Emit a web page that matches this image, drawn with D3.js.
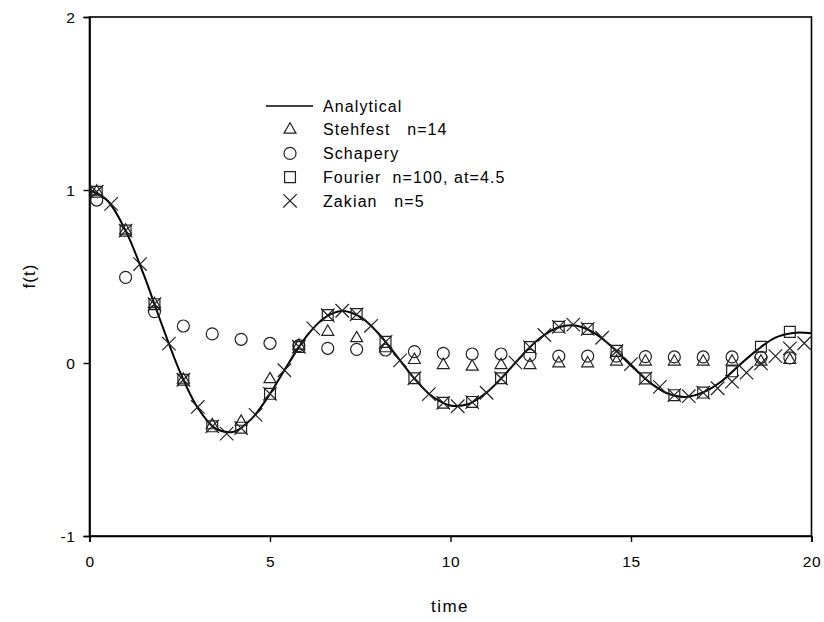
<!DOCTYPE html>
<html>
<head>
<meta charset="utf-8">
<script src="https://cdn.jsdelivr.net/npm/d3@7"></script>
<style>
  html, body { margin: 0; padding: 0; background: #fff; }
  text { font-family: "Liberation Sans", Arial, sans-serif; fill: #000; white-space: pre; }
</style>
</head>
<body>
<svg id="chart" width="824" height="622"></svg>
<script>
// Analytical curve
const tLine = [0,0.5,1,1.5,2,2.5,3,3.5,4,4.5,5,5.5,6,6.5,7,7.5,8,8.5,9,9.5,10,10.5,11,11.5,12,12.5,13,13.5,14,14.5,15,15.5,16,16.5,17,17.5,18,18.5,19,19.5,20];
const fLine = [1,0.938,0.765,0.512,0.224,-0.048,-0.260,-0.380,-0.397,-0.320,-0.178,-0.007,0.151,0.260,0.300,0.266,0.172,0.042,-0.090,-0.194,-0.246,-0.237,-0.171,-0.068,0.048,0.147,0.207,0.215,0.171,0.088,-0.014,-0.109,-0.175,-0.196,-0.170,-0.107,-0.013,0.076,0.147,0.174,0.172];

// Stehfest, Schapery, Fourier sample times
const tSample = [0.2,1.0,1.8,2.6,3.4,4.2,5.0,5.8,6.6,7.4,8.2,9.0,9.8,10.6,11.4,12.2,13.0,13.8,14.6,15.4,16.2,17.0,17.8,18.6,19.4];
const stehfest = [0.99,0.765,0.34,-0.097,-0.36,-0.34,-0.094,0.10,0.18,0.143,0.085,0.017,-0.012,-0.021,-0.012,-0.012,-0.002,-0.002,0.008,0.008,0.008,0.008,0.008,0.008,0.017];
const schapery = [0.942,0.495,0.297,0.214,0.168,0.137,0.114,0.10,0.085,0.079,0.075,0.066,0.056,0.052,0.052,0.044,0.040,0.040,0.040,0.037,0.035,0.035,0.035,0.032,0.030];
const fourier  = [0.99,0.765,0.34,-0.097,-0.366,-0.374,-0.178,0.092,0.277,0.283,0.122,-0.088,-0.230,-0.225,-0.088,0.092,0.209,0.197,0.070,-0.089,-0.186,-0.171,-0.048,0.094,0.180];

// Zakian sample times
const tZakian = [0.2,0.6,1.0,1.4,1.8,2.2,2.6,3.0,3.4,3.8,4.2,4.6,5.0,5.4,5.8,6.2,6.6,7.0,7.4,7.8,8.2,8.6,9.0,9.4,9.8,10.2,10.6,11.0,11.4,11.8,12.2,12.6,13.0,13.4,13.8,14.2,14.6,15.0,15.4,15.8,16.2,16.6,17.0,17.4,17.8,18.2,18.6,19.0,19.4,19.8];
const zakian = [0.99,0.92,0.765,0.572,0.34,0.112,-0.097,-0.254,-0.366,-0.408,-0.376,-0.300,-0.178,-0.042,0.094,0.200,0.276,0.302,0.281,0.215,0.122,0.015,-0.088,-0.180,-0.230,-0.250,-0.226,-0.172,-0.088,0.002,0.092,0.162,0.209,0.222,0.197,0.146,0.068,-0.006,-0.089,-0.138,-0.186,-0.192,-0.171,-0.146,-0.108,-0.056,-0.002,0.040,0.085,0.114];

const xTicks = [0,5,10,15,20];
const yTicks = [-1,0,1,2];
const legendLabels = ["Analytical","Stehfest   n=14","Schapery","Fourier  n=100, at=4.5","Zakian   n=5"];

const svg = d3.select("#chart");
const L = 89.5, R = 811.5, T = 17, B = 536;
const x = d3.scaleLinear().domain([0,20]).range([L,R]);
const y = d3.scaleLinear().domain([-1,2]).range([B,T]);

// Frame
svg.append("rect").attr("x",L).attr("y",T).attr("width",R-L).attr("height",B-T)
  .attr("fill","none").attr("stroke","#000").attr("stroke-width",1.6);

// Axes
const fmt = d => String(d);
const xAxis = d3.axisBottom(x).tickValues(xTicks).tickSize(6).tickPadding(14).tickFormat(fmt);
const yAxis = d3.axisLeft(y).tickValues(yTicks).tickSize(6).tickPadding(8).tickFormat(fmt);
const gx = svg.append("g").attr("transform",`translate(0,${B})`).call(xAxis);
const gy = svg.append("g").attr("transform",`translate(${L},0)`).call(yAxis);
[gx,gy].forEach(g=>{
  g.select(".domain").attr("stroke","#000").attr("stroke-width",1.6);
  g.selectAll(".tick line").attr("stroke","#000").attr("stroke-width",1.4);
  g.selectAll(".tick text").attr("font-size",15.5).attr("font-family","Liberation Sans, Arial, sans-serif").attr("fill","#000").style("letter-spacing","0.6px");
});
gy.selectAll(".tick text").attr("dy","0.35em");

svg.append("text").attr("x",450).attr("y",612).attr("text-anchor","middle")
  .attr("font-size",17).style("letter-spacing","1.5px").text("time");
svg.append("text").attr("transform","translate(35,276) rotate(-90)").attr("text-anchor","middle")
  .attr("font-size",17).style("letter-spacing","1px").text("f(t)");

// Analytical line
const line = d3.line().x((d,i)=>x(tLine[i])).y(d=>y(d)).curve(d3.curveCatmullRom.alpha(0.5));
svg.append("path").datum(fLine).attr("d",line).attr("fill","none").attr("stroke","#000").attr("stroke-width",2);

const mk = "#222", sw = 1.2;
const sym = {
  tri: d3.symbol().type(d3.symbolTriangle).size(62),
  circ: d3.symbol().type(d3.symbolCircle).size(113),
  sq: d3.symbol().type(d3.symbolSquare).size(118),
  cross: d3.symbol().type(d3.symbolX).size(120)
};
function drawMarkers(ts, vs, s, cls){
  svg.append("g").selectAll("path").data(vs).join("path")
    .attr("class",cls)
    .attr("transform",(d,i)=>`translate(${x(ts[i])},${y(d)})`)
    .attr("d",s).attr("fill","none").attr("stroke",mk).attr("stroke-width",sw);
}
drawMarkers(tSample, stehfest, sym.tri, "tri");
drawMarkers(tSample, schapery, sym.circ, "circ");
drawMarkers(tSample, fourier, sym.sq, "sq");
drawMarkers(tZakian, zakian, sym.cross, "cross");

// Legend
const lgX = 323, lgY0 = 106, lgDy = 23.7, mX = 290;
const lg = svg.append("g");
lg.append("line").attr("x1",266).attr("x2",313).attr("y1",lgY0).attr("y2",lgY0).attr("stroke","#000").attr("stroke-width",1.6);
const legSyms = [null, sym.tri, sym.circ, sym.sq, sym.cross];
legendLabels.forEach((lab,i)=>{
  const yy = lgY0 + i*lgDy;
  if (legSyms[i]) lg.append("path").attr("d",legSyms[i]).attr("transform",`translate(${mX},${yy})`)
     .attr("fill","none").attr("stroke",mk).attr("stroke-width",sw);
  lg.append("text").attr("x",lgX).attr("y",yy).attr("dy","0.36em").attr("font-size",16)
    .style("letter-spacing","1.1px").text(lab);
});
</script>
</body>
</html>
